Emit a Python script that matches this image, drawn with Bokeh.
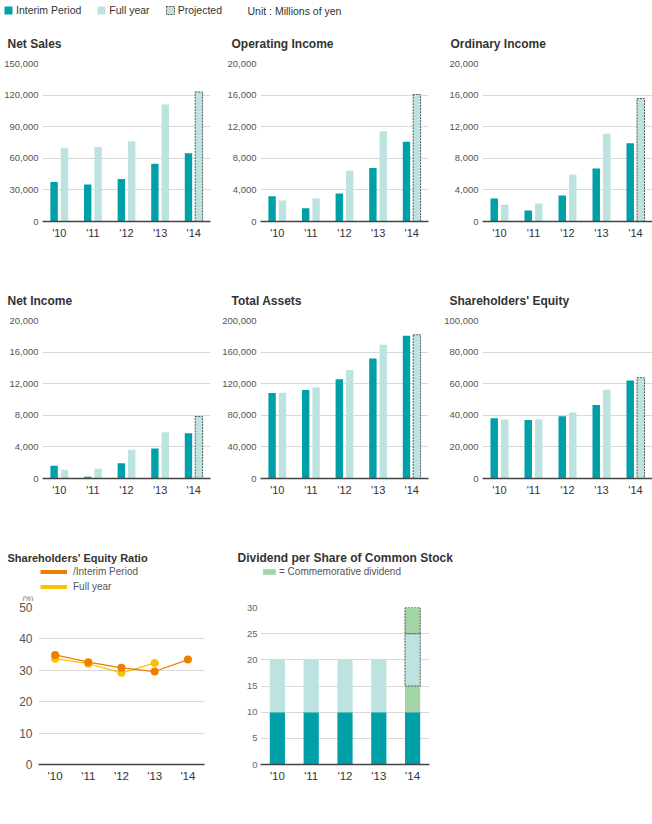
from bokeh.plotting import figure
from bokeh.models import (Range1d, FactorRange, FixedTicker, NumeralTickFormatter,
                          Label, Legend, LegendItem, ColumnDataSource)
from bokeh.transform import dodge
from bokeh.layouts import column, row
from bokeh.embed import file_html
from bokeh.resources import INLINE

# ---------------- data ----------------
years = ["'10", "'11", "'12", "'13", "'14"]

net_sales_interim = [37400, 35200, 40300, 54900, 64700]
net_sales_full = [70100, 70700, 76100, 111000]
net_sales_proj = [123000]

operating_interim = [3210, 1690, 3550, 6770, 10100]
operating_full = [2660, 2920, 6430, 11420]
operating_proj = [16070]

ordinary_interim = [2920, 1400, 3300, 6720, 9890]
ordinary_full = [2110, 2280, 5960, 11120]
ordinary_proj = [15560]

net_income_interim = [1620, 210, 1915, 3790, 5720]
net_income_full = [1110, 1230, 3640, 5870]
net_income_proj = [7850]

total_assets_interim = [108200, 112000, 125500, 152000, 180600]
total_assets_full = [108600, 115400, 137300, 169300]
total_assets_proj = [181900]

equity_interim = [38100, 37100, 39400, 46500, 62100]
equity_full = [37300, 37500, 41700, 56200]
equity_proj = [63800]

ratio_interim = [34.9, 32.6, 30.8, 29.6, 33.4]
ratio_full = [33.7, 32.1, 29.2, 32.3]

div_interim = [10, 10, 10, 10, 10]
div_year_end = [10, 10, 10, 10]
div_commem_interim_14 = [5]
div_proj_year_end_14 = [10]
div_proj_commem_14 = [5]

# ---------------- style ----------------
FONT = "Liberation Sans"
TEAL = "#00a0a8"
LIGHT = "#bde3e1"
GREEN = "#a3d4a6"
ORANGE = "#ee7d00"
YELLOW = "#fbc000"
DOT = "#555555"
GRID = "#d9d9d9"
TXT = "#333333"
TICK = "#555555"


def base_fig(width, height, bl, br, bt, bb, y_end):
    p = figure(width=width, height=height, x_range=FactorRange(*years),
               y_range=Range1d(0, y_end), output_backend="svg", toolbar_location=None,
               min_border_left=bl, min_border_right=br, min_border_top=bt, min_border_bottom=bb)
    p.outline_line_color = None
    p.xgrid.grid_line_color = None
    p.ygrid.grid_line_color = GRID
    for ax in (p.xaxis, p.yaxis):
        ax.major_tick_line_color = None
        ax.minor_tick_line_color = None
        ax.major_tick_out = 0
        ax.major_tick_in = 0
        ax.minor_tick_out = 0
        ax.major_label_text_font = FONT
    p.yaxis.axis_line_color = None
    p.yaxis.major_label_text_color = TICK
    p.xaxis.axis_line_color = "#444444"
    p.xaxis.axis_line_width = 1.5
    p.xaxis.major_label_text_color = TXT
    p.xaxis.major_label_standoff = 5
    return p


def header(width, height, title, tx, ty, size="12px"):
    h = figure(width=width, height=height, output_backend="svg", toolbar_location=None,
               x_axis_type=None, y_axis_type=None, min_border=0,
               x_range=Range1d(0, 1), y_range=Range1d(0, 1))
    h.outline_line_color = None
    h.add_layout(Label(x=tx, y=ty, x_units="screen", y_units="screen", text=title,
                       text_font=FONT, text_font_style="bold", text_font_size=size,
                       text_color=TXT, text_baseline="alphabetic"))
    return h


def bar_chart(interim, full, proj, y_end, step, width, height, bl, br, bt, bb):
    p = base_fig(width, height, bl, br, bt, bb, y_end)
    p.yaxis.ticker = FixedTicker(ticks=list(range(0, y_end + 1, step)))
    p.yaxis.formatter = NumeralTickFormatter(format="0,0")
    p.yaxis.major_label_text_font_size = "9.5px"
    p.yaxis.major_label_standoff = 4
    p.xaxis.major_label_text_font_size = "11px"
    s_int = ColumnDataSource(dict(year=years, v=interim))
    s_full = ColumnDataSource(dict(year=years[:len(full)], v=full))
    s_proj = ColumnDataSource(dict(year=years[len(full):], v=proj))
    p.vbar(x=dodge("year", -0.155, range=p.x_range), top="v", width=0.22,
           source=s_int, fill_color=TEAL, line_color=None)
    p.vbar(x=dodge("year", 0.155, range=p.x_range), top="v", width=0.22,
           source=s_full, fill_color=LIGHT, line_color=None)
    p.vbar(x=dodge("year", 0.155, range=p.x_range), top="v", width=0.22,
           source=s_proj, fill_color=LIGHT, line_color=DOT, line_dash="2 1", line_width=1)
    return p


# ---------------- top legend ----------------
leg = figure(width=652, height=20, output_backend="svg", toolbar_location=None,
             x_axis_type=None, y_axis_type=None, min_border=0,
             x_range=Range1d(0, 1), y_range=Range1d(0, 1))
leg.outline_line_color = None
e1 = leg.vbar(x=[-5], top=[0], width=0.1, fill_color=TEAL, line_color=None)
e2 = leg.vbar(x=[-5], top=[0], width=0.1, fill_color=LIGHT, line_color=None)
e3 = leg.vbar(x=[-5], top=[0], width=0.1, fill_color=LIGHT, line_color=DOT, line_dash="2 1")
leg.add_layout(Legend(items=[LegendItem(label="Interim Period", renderers=[e1]),
                             LegendItem(label="Full year", renderers=[e2]),
                             LegendItem(label="Projected", renderers=[e3])],
                      location=(3, 4), orientation="horizontal", glyph_width=10, glyph_height=10,
                      label_height=12, label_standoff=3, spacing=15, padding=0, margin=0,
                      border_line_color=None, background_fill_alpha=0,
                      label_text_font=FONT, label_text_font_size="10.5px", label_text_color=TXT))
leg.add_layout(Label(x=247, y=10, x_units="screen", y_units="screen",
                     text="Unit : Millions of yen", text_font=FONT, text_font_size="10.5px",
                     text_color=TXT, text_baseline="middle"))

# ---------------- row 1 ----------------
H1 = 35
h1 = header(215, H1, "Net Sales", 7, 11.5)
h2 = header(215, H1, "Operating Income", 16, 11.5)
h3 = header(222, H1, "Ordinary Income", 20, 11.5)
R1H, R1T, R1B = 221, 8, 55
f1 = bar_chart(net_sales_interim, net_sales_full, net_sales_proj, 150000, 30000,
               215, R1H, 42, 5, R1T, R1B)
f2 = bar_chart(operating_interim, operating_full, operating_proj, 20000, 4000,
               215, R1H, 45, 2, R1T, R1B)
f3 = bar_chart(ordinary_interim, ordinary_full, ordinary_proj, 20000, 4000,
               222, R1H, 52, 0, R1T, R1B)

# ---------------- row 2 ----------------
H2 = 36
h4 = header(215, H2, "Net Income", 7, 12)
h5 = header(215, H2, "Total Assets", 16, 12)
h6 = header(222, H2, "Shareholders' Equity", 19, 12)
R2H, R2T, R2B = 218, 8, 52
f4 = bar_chart(net_income_interim, net_income_full, net_income_proj, 20000, 4000,
               215, R2H, 42, 5, R2T, R2B)
f5 = bar_chart(total_assets_interim, total_assets_full, total_assets_proj, 200000, 40000,
               215, R2H, 45, 2, R2T, R2B)
f6 = bar_chart(equity_interim, equity_full, equity_proj, 100000, 20000,
               222, R2H, 52, 0, R2T, R2B)

# ---------------- row 3 ----------------
H3 = 71
h7 = header(215, H3, "Shareholders' Equity Ratio", 7, 43.7, size="11px")
d1 = h7.line(x=[-5, -4], y=[0, 0], line_color=ORANGE, line_width=4)
d2 = h7.line(x=[-5, -4], y=[0, 0], line_color=YELLOW, line_width=4)
h7.add_layout(Legend(items=[LegendItem(label="/Interim Period", renderers=[d1]),
                            LegendItem(label="Full year", renderers=[d2])],
                     location=(40, 7), glyph_width=27, glyph_height=15, label_height=15,
                     spacing=0, padding=0, margin=0, label_standoff=6,
                     border_line_color=None, background_fill_alpha=0,
                     label_text_font=FONT, label_text_font_size="10px", label_text_color=TICK))
h7.add_layout(Label(x=22, y=3, x_units="screen", y_units="screen", text="(%)",
                    text_font=FONT, text_font_size="7px", text_color="#666666",
                    text_baseline="alphabetic"))

h8 = header(300, H3, "Dividend per Share of Common Stock", 22, 43.7)
d3 = h8.vbar(x=[-5], top=[0], width=0.1, fill_color=GREEN, line_color=None)
h8.add_layout(Legend(items=[LegendItem(label="= Commemorative dividend", renderers=[d3])],
                     location=(46, 24), glyph_width=16, glyph_height=7, label_height=12,
                     spacing=0, padding=0, margin=0, label_standoff=2,
                     border_line_color=None, background_fill_alpha=0,
                     label_text_font=FONT, label_text_font_size="10px", label_text_color=TICK))

R3H, R3T, R3B = 193, 6, 30
f7 = base_fig(215, R3H, 38, 11, R3T, R3B, 50)
f7.yaxis.ticker = FixedTicker(ticks=[0, 10, 20, 30, 40, 50])
f7.yaxis.major_label_text_font_size = "12px"
f7.yaxis.major_label_standoff = 6
f7.xaxis.major_label_text_font_size = "11.5px"
f7.line(years[:len(ratio_full)], ratio_full, line_color=YELLOW, line_width=1.2)
f7.scatter(years[:len(ratio_full)], ratio_full, size=8, fill_color=YELLOW, line_color=None)
f7.line(years, ratio_interim, line_color=ORANGE, line_width=1.2)
f7.scatter(years, ratio_interim, size=8, fill_color=ORANGE, line_color=None)

f8 = base_fig(225, R3H, 45, 11, R3T, R3B, 30)
f8.yaxis.ticker = FixedTicker(ticks=[0, 5, 10, 15, 20, 25, 30])
f8.yaxis.major_label_text_font_size = "9.5px"
f8.yaxis.major_label_text_color = "#666666"
f8.yaxis.major_label_standoff = 3
f8.xaxis.major_label_text_font_size = "11.5px"
n_ye = len(div_year_end)
y14 = years[n_ye:]
ye_bottom = div_interim[:n_ye]
ye_top = [a + b for a, b in zip(div_interim[:n_ye], div_year_end)]
ci_bottom = div_interim[n_ye:]
ci_top = [a + b for a, b in zip(ci_bottom, div_commem_interim_14)]
pye_top = [a + b for a, b in zip(ci_top, div_proj_year_end_14)]
pc_top = [a + b for a, b in zip(pye_top, div_proj_commem_14)]
f8.vbar(x=years, bottom=0, top=div_interim, width=0.45, fill_color=TEAL, line_color=None)
f8.vbar(x=years[:n_ye], bottom=ye_bottom, top=ye_top, width=0.45, fill_color=LIGHT, line_color=None)
f8.vbar(x=y14, bottom=ci_bottom, top=ci_top, width=0.45, fill_color=GREEN, line_color=None)
f8.vbar(x=y14, bottom=ci_top, top=pye_top, width=0.45, fill_color=LIGHT,
        line_color=DOT, line_dash="2 1", line_width=1)
f8.vbar(x=y14, bottom=pye_top, top=pc_top, width=0.45, fill_color=GREEN,
        line_color=DOT, line_dash="2 1", line_width=1)

layout = column(leg,
                row(h1, h2, h3), row(f1, f2, f3),
                row(h4, h5, h6), row(f4, f5, f6),
                row(h7, h8), row(f7, f8))

with open("out.html", "w") as fh:
    fh.write(file_html(layout, INLINE))
